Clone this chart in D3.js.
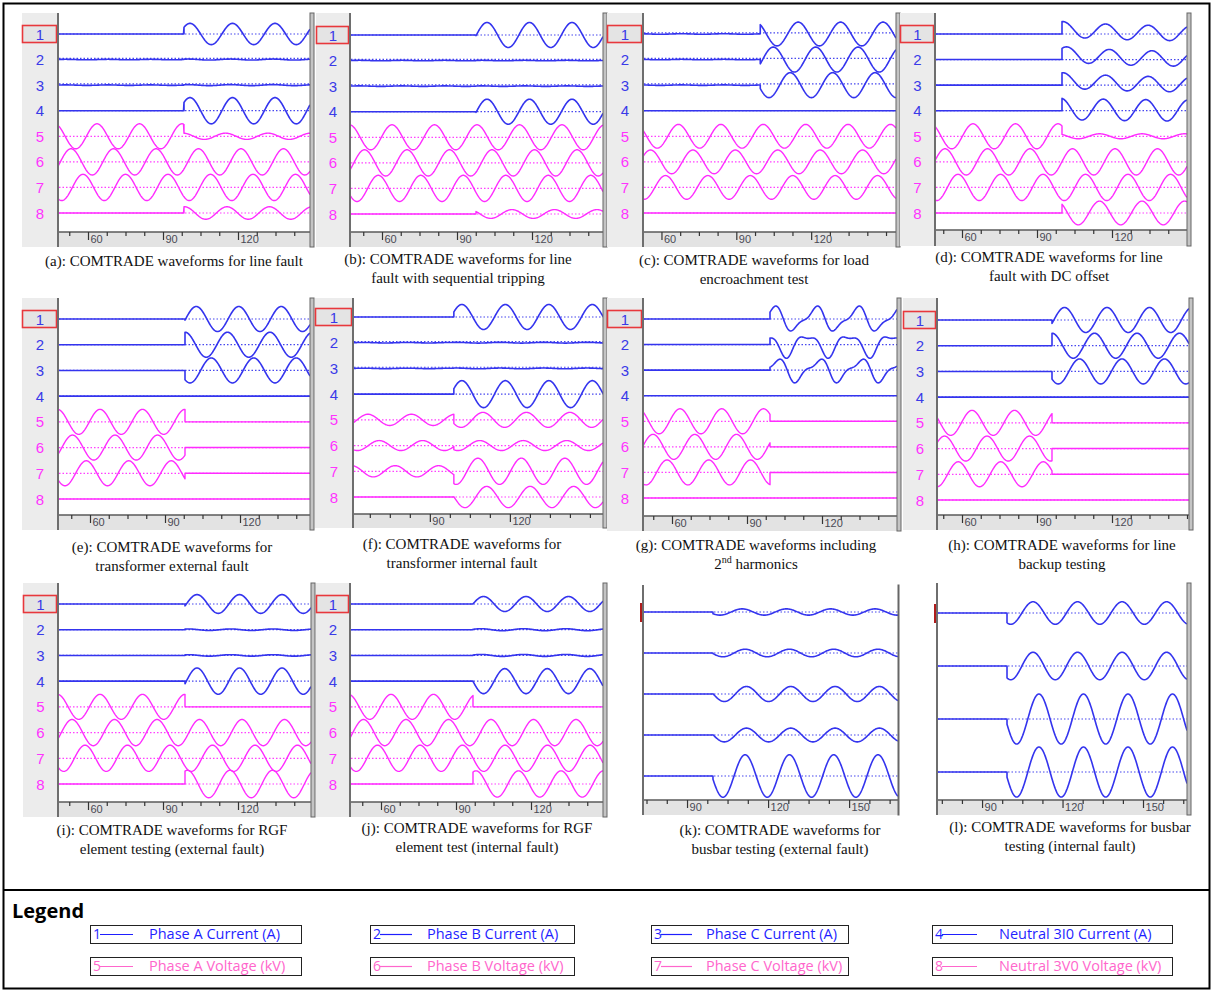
<!DOCTYPE html>
<html>
<head>
<meta charset="utf-8">
<script src="https://cdn.jsdelivr.net/npm/d3@7/dist/d3.min.js"></script>
<style>
  body { margin: 0; background: #fff; }
  svg { display: block; }
</style>
</head>
<body>
<div class="canvas"></div>
<script>
// ---- data ----
const panelKeys = ['a', 'b', 'c', 'd', 'e', 'f', 'g', 'h', 'i', 'j', 'k', 'l']

const captions = [
  ['(a): COMTRADE waveforms for line fault'],
  ['(b): COMTRADE waveforms for line', 'fault with sequential tripping'],
  ['(c): COMTRADE waveforms for load', 'encroachment test'],
  ['(d): COMTRADE waveforms for line', 'fault with DC offset'],
  ['(e): COMTRADE waveforms for', 'transformer external fault'],
  ['(f): COMTRADE waveforms for', 'transformer internal fault'],
  ['(g): COMTRADE waveforms including', '2|nd| harmonics'],
  ['(h): COMTRADE waveforms for line', 'backup testing'],
  ['(i): COMTRADE waveforms for RGF', 'element testing (external fault)'],
  ['(j): COMTRADE waveforms for RGF', 'element test (internal fault)'],
  ['(k): COMTRADE waveforms for', 'busbar testing (external fault)'],
  ['(l): COMTRADE waveforms for busbar', 'testing (internal fault)']
]

// visible time window of each screenshot (ms)
const timeDomain = [
  [48, 148.8], [47.2, 148.4], [52.6, 154], [49.2, 150],
  [47.2, 148], [61.2, 154.9], [48.4, 150], [50, 150.8],
  [48, 149.2], [47.6, 148.8], [73.7, 168.1], [73.2, 166.4]
]
const tickLabels = [
  [60, 90, 120], [60, 90, 120], [60, 90, 120], [60, 90, 120],
  [60, 90, 120], [90, 120], [60, 90, 120], [60, 90, 120],
  [60, 90, 120], [60, 90, 120], [90, 120, 150], [90, 120, 150]
]
const faultMs = [98.4, 97.6, 99.6, 100, 98, 99, 99.2, 96, 98.8, 96.8, 99.6, 99.3]
const periodMs = [17, 17, 17, 17, 17, 16.3, 16.7, 17, 17, 17, 16.4, 16.6]

const channelIds = [
  [1, 2, 3, 4, 5, 6, 7, 8], [1, 2, 3, 4, 5, 6, 7, 8], [1, 2, 3, 4, 5, 6, 7, 8], [1, 2, 3, 4, 5, 6, 7, 8],
  [1, 2, 3, 4, 5, 6, 7, 8], [1, 2, 3, 4, 5, 6, 7, 8], [1, 2, 3, 4, 5, 6, 7, 8], [1, 2, 3, 4, 5, 6, 7, 8],
  [1, 2, 3, 4, 5, 6, 7, 8], [1, 2, 3, 4, 5, 6, 7, 8], [1, 2, 3, 4, 5], [1, 2, 3, 4]
]
// channel kind: I = current (blue), V = voltage (magenta)
const channelKind = ['I', 'I', 'I', 'I', 'V', 'V', 'V', 'V']
const busbarKind = ['I', 'I', 'I', 'I', 'I']

// amplitudes in per-unit of the channel trace, before and after fault inception
const preAmp = [
  [0, .02, .02, 0, 1.0, 1.05, 1.05, 0],
  [0, .02, .02, 0, 1.0, 1.05, 1.05, 0],
  [.02, .02, .02, 0, .95, .95, .95, 0],
  [0, 0, 0, 0, 1.0, 1.05, 1.05, 0],
  [0, 0, 0, 0, 1.0, 1.0, 1.0, 0],
  [0, .02, .02, 0, .45, .4, .45, 0],
  [0, 0, 0, 0, 1.0, 1.0, 1.0, 0],
  [0, 0, 0, 0, 1.0, 1.0, 1.0, 0],
  [0, 0, 0, 0, 1.0, 1.05, 1.05, 0],
  [0, 0, 0, 0, 1.0, 1.05, 1.05, 0],
  [0, 0, 0, 0, 0],
  [0, 0, 0, 0]
]
const postAmp = [
  [.85, .04, .04, 1.05, .25, 1.05, 1.05, .5],
  [1.0, .02, .02, 1.0, 1.0, 1.05, 1.05, .35],
  [.95, 1.0, 1.0, 0, .95, .95, .95, 0],
  [.6, .6, .6, .85, .2, 1.05, 1.05, .95],
  [1.0, 1.0, 1.0, 0, 0, 0, 0, 0],
  [1.0, .03, .03, 1.08, .6, .4, 1.05, .85],
  [.85, .8, .8, 0, 0, 0, 0, 0],
  [1.0, 1.0, 1.0, 0, 0, 0, 0, 0],
  [.75, .06, .06, 1.05, 0, 1.05, 1.05, 1.1],
  [.6, .08, .08, 1.0, 0, 1.05, 1.05, 1.05],
  [.25, .3, .6, .55, 1.7],
  [.9, 1.1, 2.0, 2.0]
]
// time of a positive peak (ms) before and after the fault
const prePeakMs = [
  [0, 0, 0, 0, 63.6, 53.2, 58, 0],
  [0, 0, 0, 0, 64, 53, 58.5, 0],
  [0, 0, 0, 0, 66.8, 55.6, 61.6, 0],
  [0, 0, 0, 0, 64.4, 53.2, 58.4, 0],
  [0, 0, 0, 0, 64, 53, 58.5, 0],
  [0, 0, 0, 0, 66.8, 71, 77, 0],
  [0, 0, 0, 0, 63.2, 52.4, 58, 0],
  [0, 0, 0, 0, 64, 53, 58.5, 0],
  [0, 0, 0, 0, 64.8, 53.6, 58.8, 0],
  [0, 0, 0, 0, 64, 53, 58.6, 0],
  [0, 0, 0, 0, 0],
  [0, 0, 0, 0]
]
const postPeakMs = [
  [100.8, 100, 100, 100.8, 115, 53.2, 58, 115.6],
  [102, 100, 100, 102, 64, 53, 58.5, 112],
  [114.8, 104.8, 111.6, 0, 66.8, 55.6, 61.6, 0],
  [117.5, 119, 117.5, 116.5, 115, 53.2, 58.4, 115],
  [102.5, 115, 108.5, 0, 0, 0, 0, 0],
  [102, 100, 100, 102, 109.9, 108.7, 108, 111.3],
  [117.2, 114, 118.4, 0, 0, 0, 0, 0],
  [101, 113, 107, 0, 0, 0, 0, 0],
  [103.6, 100, 100, 103.6, 0, 53.6, 58.8, 116.8],
  [101, 100, 100, 109.5, 0, 53, 58.6, 115],
  [110.4, 111.5, 112, 112, 111.5],
  [109, 109, 111.2, 111.2]
]
// decaying DC offset at inception (panel d) and 2nd harmonic content (panel g)
const postDc = [
  [0, 0, 0, 0, 0, 0, 0, 0], [0, 0, 0, 0, 0, 0, 0, 0], [0, 0, 0, 0, 0, 0, 0, 0],
  [.4, .45, .4, .15, 0, 0, 0, 0],
  [0, 0, 0, 0, 0, 0, 0, 0], [0, 0, 0, 0, 0, 0, 0, 0], [0, 0, 0, 0, 0, 0, 0, 0],
  [0, 0, 0, 0, 0, 0, 0, 0], [0, 0, 0, 0, 0, 0, 0, 0], [0, 0, 0, 0, 0, 0, 0, 0],
  [0, 0, 0, 0, 0], [0, 0, 0, 0]
]
const dcTauMs = 25
const postH2Amp = [
  [0, 0, 0, 0, 0, 0, 0, 0], [0, 0, 0, 0, 0, 0, 0, 0], [0, 0, 0, 0, 0, 0, 0, 0],
  [0, 0, 0, 0, 0, 0, 0, 0], [0, 0, 0, 0, 0, 0, 0, 0], [0, 0, 0, 0, 0, 0, 0, 0],
  [.3, .3, .3, 0, 0, 0, 0, 0],
  [0, 0, 0, 0, 0, 0, 0, 0], [0, 0, 0, 0, 0, 0, 0, 0], [0, 0, 0, 0, 0, 0, 0, 0],
  [0, 0, 0, 0, 0], [0, 0, 0, 0]
]
const postH2PeakMs = [
  [], [], [], [], [], [],
  [119, 110, 121, 0, 0, 0, 0, 0],
  [], [], [], [], []
]

const legendNames = [
  'Phase A Current (A)', 'Phase B Current (A)', 'Phase C Current (A)', 'Neutral 3I0 Current (A)',
  'Phase A Voltage (kV)', 'Phase B Voltage (kV)', 'Phase C Voltage (kV)', 'Neutral 3V0 Voltage (kV)'
]

// ---- layout ----
const W = 1212, H = 990
const PU = 12.5
const colour = { I: '#3434ee', V: '#ff2bff' }
const labelColour = { I: '#3a3ae8', V: '#ff33ff' }

const layout = [
  { lx: 22, xp: 58, xr: 310, top: 13, y1: 34, yN: 213, at: 232, ab: 247, cx: 174, cy: 266 },
  { lx: 316, xp: 350, xr: 603, top: 13, y1: 35, yN: 214, at: 232, ab: 247, cx: 458, cy: 264 },
  { lx: 607, xp: 643, xr: 896, top: 13, y1: 34, yN: 213, at: 232, ab: 247, cx: 754, cy: 265 },
  { lx: 900, xp: 935, xr: 1187, top: 13, y1: 34, yN: 213, at: 230, ab: 246, cx: 1049, cy: 262 },
  { lx: 22, xp: 58, xr: 310, top: 298, y1: 319, yN: 499, at: 515, ab: 530, cx: 172, cy: 552 },
  { lx: 315, xp: 353, xr: 603, top: 298, y1: 317, yN: 497, at: 514, ab: 528, cx: 462, cy: 549 },
  { lx: 607, xp: 643, xr: 897, top: 298, y1: 319, yN: 498, at: 516, ab: 531, cx: 756, cy: 550 },
  { lx: 903, xp: 937, xr: 1189, top: 298, y1: 320, yN: 500, at: 515, ab: 530, cx: 1062, cy: 550 },
  { lx: 23, xp: 58, xr: 311, top: 583, y1: 604, yN: 784, at: 802, ab: 817, cx: 172, cy: 835 },
  { lx: 316, xp: 350, xr: 603, top: 583, y1: 604, yN: 784, at: 802, ab: 817, cx: 477, cy: 833 },
  { lx: null, xp: 643, xr: 898, top: 585, y1: 612, yN: 776, at: 800, ab: 815, cx: 780, cy: 835 },
  { lx: null, xp: 937, xr: 1187, top: 583, y1: 613, yN: 772, at: 800, ab: 815, cx: 1070, cy: 832 }
]

const svg = d3.select('.canvas')
  .append('svg')
    .attr('width', W)
    .attr('height', H)

svg.append('rect')
  .attr('width', W).attr('height', H).attr('fill', '#fff')

function drawPanel(p) {
  const L = layout[p]
  const g = svg.append('g').attr('class', 'panel-' + panelKeys[p])
  const x = d3.scaleLinear().domain(timeDomain[p]).range([L.xp, L.xr])
  const chans = channelIds[p]
  const kinds = L.lx === null ? busbarKind : channelKind
  const yBase = d3.scalePoint().domain(chans).range([L.y1, L.yN])
  const v = d3.scaleLinear().domain([-1, 1]).range([PU, -PU])
  const T = periodMs[p], tf = faultMs[p]

  // channel label column
  if (L.lx !== null) {
    g.append('rect')
      .attr('x', L.lx).attr('y', L.top)
      .attr('width', L.xp - L.lx).attr('height', L.ab - L.top)
      .attr('fill', '#ececec')
    g.append('rect')
      .attr('x', L.lx + 0.5).attr('y', yBase(1) - 8.5)
      .attr('width', L.xp - L.lx - 2).attr('height', 17)
      .attr('fill', '#e4e4e4')
      .attr('stroke', '#e8383c').attr('stroke-width', 1.6)
    g.selectAll('text.chl')
      .data(chans)
      .enter()
      .append('text')
        .attr('class', 'chl')
        .attr('x', (L.lx + L.xp) / 2)
        .attr('y', d => yBase(d) + 5.5)
        .attr('text-anchor', 'middle')
        .attr('font-family', 'Liberation Sans, Arial, sans-serif')
        .attr('font-size', 15)
        .attr('fill', d => labelColour[kinds[d - 1]])
        .text(d => d)
  } else {
    g.append('rect')
      .attr('x', L.xp - 3).attr('y', yBase(1) - 9)
      .attr('width', 3).attr('height', 19)
      .attr('fill', '#b01c1c')
  }

  // zero lines (dotted); raised a pixel where a near-flat noisy trace lies on them
  const noisy = c => preAmp[p][c - 1] > 0 && preAmp[p][c - 1] < 0.1
  g.selectAll('line.zero')
    .data(chans)
    .enter()
    .append('line')
      .attr('class', 'zero')
      .attr('x1', L.xp + 1).attr('x2', L.xr)
      .attr('y1', d => yBase(d) - (noisy(d) ? 1.2 : 0))
      .attr('y2', d => yBase(d) - (noisy(d) ? 1.2 : 0))
      .attr('stroke', d => colour[kinds[d - 1]])
      .attr('stroke-width', 1.2)
      .attr('stroke-dasharray', '1.5,2')
      .attr('opacity', 0.9)

  // waveforms
  const wave = (c, t) => {
    const i = c - 1
    if (t < tf) {
      return preAmp[p][i] * Math.cos(2 * Math.PI * (t - prePeakMs[p][i]) / T)
    }
    let val = postAmp[p][i] * Math.cos(2 * Math.PI * (t - postPeakMs[p][i]) / T)
    val += postDc[p][i] * Math.exp(-(t - tf) / dcTauMs)
    if (postH2Amp[p][i]) {
      val += postH2Amp[p][i] * Math.cos(4 * Math.PI * (t - postH2PeakMs[p][i]) / T)
    }
    return val
  }
  const series = c => {
    const [t0, t1] = timeDomain[p]
    const pts = d3.range(t0, tf, 0.2).map(t => [t, wave(c, t)])
    pts.push([tf, wave(c, tf - 1e-6)])
    pts.push([tf, wave(c, tf)])
    d3.range(tf + 0.2, t1, 0.2).forEach(t => pts.push([t, wave(c, t)]))
    pts.push([t1, wave(c, t1)])
    return pts
  }

  g.selectAll('path.wave')
    .data(chans)
    .enter()
    .append('path')
      .attr('class', 'wave')
      .attr('fill', 'none')
      .attr('stroke', d => colour[kinds[d - 1]])
      .attr('stroke-width', d => kinds[d - 1] === 'I' ? 1.6 : 1.4)
      .attr('stroke-linejoin', 'round')
      .attr('d', d => d3.line()
        .x(q => x(q[0]))
        .y(q => yBase(d) + v(q[1]))(series(d)))

  // time axis strip
  g.append('rect')
    .attr('x', L.xp).attr('y', L.at)
    .attr('width', L.xr - L.xp).attr('height', L.ab - L.at)
    .attr('fill', '#e3e3e3')
  g.append('line')
    .attr('x1', L.xp).attr('x2', L.xr)
    .attr('y1', L.at).attr('y2', L.at)
    .attr('stroke', '#5a5a5a').attr('stroke-width', 1.5)

  const [d0, d1] = timeDomain[p]
  const minor = d3.range(Math.ceil(d0 / 7.5) * 7.5, d1, 7.5)
    .filter(t => !tickLabels[p].includes(t))
  const axisGroup = g.append('g').attr('transform', `translate(0, ${L.at})`)
  axisGroup.call(d3.axisBottom(x).tickValues(minor).tickSize(4).tickFormat(''))
  const majorGroup = g.append('g').attr('transform', `translate(0, ${L.at})`)
  majorGroup.call(d3.axisBottom(x).tickValues(tickLabels[p]).tickSize(8).tickFormat(d => d))
  ;[axisGroup, majorGroup].forEach(ag => {
    ag.select('.domain').remove()
    ag.selectAll('line').attr('stroke', '#333').attr('stroke-width', 1.2)
  })
  majorGroup.selectAll('text')
    .attr('text-anchor', 'start')
    .attr('x', 2).attr('y', 2).attr('dy', '0.85em')
    .attr('font-family', 'Liberation Sans, Arial, sans-serif')
    .attr('font-size', 11)
    .attr('fill', '#4a4a55')

  // borders
  g.append('line')
    .attr('x1', L.xp).attr('x2', L.xp)
    .attr('y1', L.top).attr('y2', L.ab)
    .attr('stroke', '#6e6e6e').attr('stroke-width', 2)
  g.append('rect')
    .attr('x', L.xr).attr('y', L.top)
    .attr('width', p === 10 ? 1 : 4).attr('height', L.ab - L.top)
    .attr('fill', '#c4c4c4')
    .attr('stroke', '#666').attr('stroke-width', 1)

  // caption
  const cap = g.append('text')
    .attr('font-family', 'Liberation Serif, Times New Roman, serif')
    .attr('font-size', 15)
    .attr('fill', '#111')
    .attr('text-anchor', 'middle')
  captions[p].forEach((line, k) => {
    const parts = line.split('|')
    const ts = cap.append('tspan').attr('x', L.cx).attr('y', L.cy + k * 19)
    if (parts.length === 1) {
      ts.text(line)
    } else {
      ts.text(parts[0])
      cap.append('tspan').attr('font-size', 10).attr('dy', -6).text(parts[1])
      cap.append('tspan').attr('dy', 6).text(parts[2])
    }
  })
}

panelKeys.forEach((k, p) => drawPanel(p))

// ---- outer frame and legend ----
svg.append('rect')
  .attr('x', 3.5).attr('y', 3.5)
  .attr('width', W - 6).attr('height', H - 5)
  .attr('fill', 'none').attr('stroke', '#000').attr('stroke-width', 2)
svg.append('line')
  .attr('x1', 3).attr('x2', W - 2)
  .attr('y1', 890).attr('y2', 890)
  .attr('stroke', '#000').attr('stroke-width', 2)

svg.append('text')
  .attr('x', 12).attr('y', 918)
  .attr('font-family', 'Open Sans, sans-serif')
  .attr('font-weight', 'bold')
  .attr('font-size', 20)
  .text('Legend')

const legendCols = [
  { x: 90, w: 211, l1: 100, l2: 133, tx: 149 },
  { x: 370, w: 204, l1: 380, l2: 412, tx: 427 },
  { x: 651, w: 197, l1: 661, l2: 692, tx: 706 },
  { x: 932, w: 240, l1: 942, l2: 977, tx: 999 }
]
const legendRows = [925, 957]
const legendColour = { I: '#1f1fff', V: '#ff66cc' }

legendNames.forEach((name, i) => {
  const col = legendCols[i % 4], rowY = legendRows[Math.floor(i / 4)]
  const kind = channelKind[i]
  const lg = svg.append('g')
  lg.append('rect')
    .attr('x', col.x + 0.5).attr('y', rowY + 0.5)
    .attr('width', col.w).attr('height', 18)
    .attr('fill', '#fff').attr('stroke', '#222').attr('stroke-width', 1)
  lg.append('text')
    .attr('x', col.x + 3).attr('y', rowY + 14)
    .attr('font-family', 'Open Sans, sans-serif').attr('font-size', 14)
    .attr('fill', legendColour[kind])
    .text(i + 1)
  lg.append('line')
    .attr('x1', col.l1).attr('x2', col.l2)
    .attr('y1', rowY + 9.5).attr('y2', rowY + 9.5)
    .attr('stroke', legendColour[kind]).attr('stroke-width', 1.2)
  lg.append('text')
    .attr('x', col.tx).attr('y', rowY + 14)
    .attr('font-family', 'Open Sans, sans-serif').attr('font-size', 14.5)
    .attr('textLength', null)
    .attr('fill', legendColour[kind])
    .text(name)
})
</script>
</body>
</html>
